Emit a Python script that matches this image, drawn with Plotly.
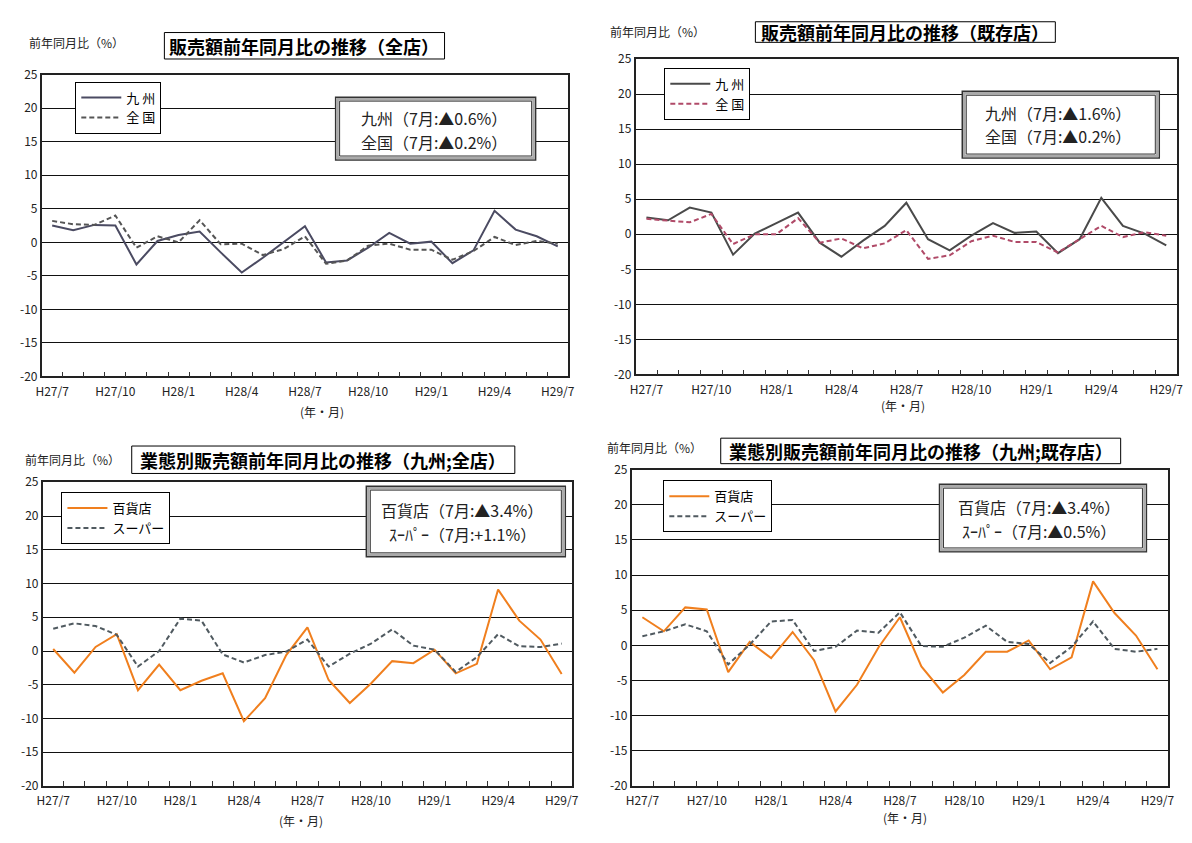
import plotly.graph_objects as go

W, H = 1192, 843

months = ["H27/7", "H27/8", "H27/9", "H27/10", "H27/11", "H27/12",
          "H28/1", "H28/2", "H28/3", "H28/4", "H28/5", "H28/6",
          "H28/7", "H28/8", "H28/9", "H28/10", "H28/11", "H28/12",
          "H29/1", "H29/2", "H29/3", "H29/4", "H29/5", "H29/6", "H29/7"]
label_months = ["H27/7", "H27/10", "H28/1", "H28/4", "H28/7", "H28/10", "H29/1", "H29/4", "H29/7"]
y_ticks = [-20, -15, -10, -5, 0, 5, 10, 15, 20, 25]

# Panel 1: 全店
kyushu_all = [2.5, 1.8, 2.6, 2.5, -3.3, 0.2, 1.1, 1.6, -1.5, -4.5, -2.3, 0.1, 2.4,
              -3.0, -2.7, -0.8, 1.4, -0.2, 0.1, -3.1, -1.2, 4.7, 1.9, 0.9, -0.6]
zenkoku_all = [3.2, 2.7, 2.6, 4.0, -0.8, 0.9, 0.0, 3.3, -0.3, -0.2, -1.9, -1.0, 0.9,
               -3.2, -2.7, -0.5, -0.2, -1.1, -1.1, -2.6, -1.3, 0.8, -0.4, 0.2, -0.2]
# Panel 2: 既存店
kyushu_exist = [2.4, 2.0, 3.8, 3.1, -2.9, 0.1, 1.6, 3.1, -1.2, -3.2, -0.9, 1.2, 4.5,
                -0.7, -2.3, -0.2, 1.6, 0.2, 0.4, -2.7, -0.7, 5.2, 1.2, 0.1, -1.6]
zenkoku_exist = [2.2, 1.9, 1.7, 2.9, -1.4, 0.0, 0.0, 2.3, -1.2, -0.6, -2.0, -1.3, 0.6,
                 -3.5, -3.0, -1.0, -0.2, -1.1, -1.1, -2.6, -0.7, 1.2, -0.4, 0.3, -0.2]
# Panel 3: 業態別 九州 全店
dept_all = [0.3, -3.2, 0.6, 2.5, -5.8, -2.0, -5.8, -4.4, -3.3, -10.4, -7.0, -0.6, 3.5,
            -4.3, -7.7, -4.8, -1.5, -1.8, 0.2, -3.3, -1.9, 9.1, 4.5, 1.7, -3.4]
super_all = [3.3, 4.1, 3.7, 2.4, -2.3, 0.0, 4.8, 4.5, -0.5, -1.7, -0.6, -0.1, 1.7,
             -2.3, -0.4, 1.1, 3.2, 0.8, 0.2, -3.1, -0.9, 2.5, 0.7, 0.6, 1.1]
# Panel 4: 業態別 九州 既存店
dept_exist = [4.0, 2.0, 5.4, 5.1, -3.8, 0.5, -1.8, 1.9, -2.1, -9.4, -5.6, -0.3, 4.0,
              -3.0, -6.7, -4.2, -0.9, -0.9, 0.7, -3.4, -1.7, 9.1, 4.6, 1.4, -3.4]
super_exist = [1.3, 2.0, 3.0, 2.0, -2.7, 0.1, 3.4, 3.6, -0.8, -0.2, 2.1, 1.8, 4.7,
               -0.1, -0.2, 1.1, 2.8, 0.5, 0.2, -2.5, -0.2, 3.4, -0.5, -0.9, -0.5]

FONT = "Noto Sans CJK JP"
TICKFONT = "Noto Sans CJK JP"

def px(x):
    return x / W

def py(y):
    return 1 - y / H

panels = [
    dict(dom=(36, 568, 66, 374),
         title="販売額前年同月比の推移（全店）", tbox=(160, 443, 23, 50),
         ylab=(71, 33), xlab=(319, 410),
         leg=(70, 73),
         abox=(333, 535, 89, 153), atext=(432, 110, 135),
         lines=["九州（7月:▲0.6%）", "全国（7月:▲0.2%）"],
         series=[("九 州", kyushu_all, "#4b4b62", "solid"),
                 ("全 国", zenkoku_all, "#555555", "5px,3px")]),
    dict(dom=(636, 1183, 50, 372),
         title="販売額前年同月比の推移（既存店）", tbox=(757, 1060, 12, 33),
         ylab=(658, 22), xlab=(906, 404),
         leg=(665, 59),
         abox=(966, 1165, 83, 151), atext=(1063, 105, 129),
         lines=["九州（7月:▲1.6%）", "全国（7月:▲0.2%）"],
         series=[("九 州", kyushu_exist, "#4a4a4a", "solid"),
                 ("全 国", zenkoku_exist, "#b04a68", "5px,3px")]),
    dict(dom=(37, 572, 482, 792),
         title="業態別販売額前年同月比の推移（九州;全店）", tbox=(127, 514, 445, 473),
         ylab=(67, 459), xlab=(298, 827),
         leg=(56, 492),
         abox=(364, 565, 486, 558), atext=(461, 510, 535),
         lines=["百貨店（7月:▲3.4%）", "ｽｰﾊﾟｰ（7月:+1.1%）"],
         series=[("百貨店", dept_all, "#f07f1e", "solid"),
                 ("スーパー", super_all, "#505a60", "5px,3px")]),
    dict(dom=(632, 1174, 469, 792),
         title="業態別販売額前年同月比の推移（九州;既存店）", tbox=(722, 1126, 437, 463),
         ylab=(655, 447), xlab=(908, 824),
         leg=(664, 480),
         abox=(943, 1152, 484, 553), atext=(1044, 507, 532),
         lines=["百貨店（7月:▲3.4%）", "ｽｰﾊﾟｰ（7月:▲0.5%）"],
         series=[("百貨店", dept_exist, "#f07f1e", "solid"),
                 ("スーパー", super_exist, "#505a60", "5px,3px")]),
]

fig = go.Figure()
shapes = []
annotations = []
layout = dict(width=W, height=H, margin=dict(l=0, r=0, t=0, b=0),
              paper_bgcolor="white", plot_bgcolor="white",
              font=dict(family=FONT, color="black"))

ticktext = [m if m in label_months else "" for m in months]

for k, p in enumerate(panels, start=1):
    sfx = "" if k == 1 else str(k)
    x0, x1, y0, y1 = p["dom"]
    legname = "legend" if k == 1 else f"legend{k}"
    for name, vals, color, dash in p["series"]:
        fig.add_trace(go.Scatter(
            x=months, y=vals, mode="lines", name=name,
            line=dict(color=color, width=2, dash=dash),
            xaxis=f"x{sfx}", yaxis=f"y{sfx}", legend=legname))
    layout[f"xaxis{sfx}"] = dict(
        domain=[px(x0), px(x1)], anchor=f"y{sfx}", type="category",
        categoryorder="array", categoryarray=months,
        range=[-0.5, len(months) - 0.5],
        tickmode="array", tickvals=months, ticktext=ticktext,
        tickson="boundaries", ticks="inside", ticklen=5, tickcolor="#333",
        showgrid=False, showline=True, linecolor="#222", linewidth=1.5, mirror=True,
        tickfont=dict(size=12, family=TICKFONT, color="#222"), ticklabelstandoff=3,
        tickangle=0)
    layout[f"yaxis{sfx}"] = dict(
        domain=[py(y1), py(y0)], anchor=f"x{sfx}", range=[-20, 25],
        tickmode="array", tickvals=y_ticks, ticktext=[str(v) for v in y_ticks],
        showgrid=True, gridcolor="#111", gridwidth=1.3, zeroline=False,
        showline=True, linecolor="#222", linewidth=1.5, mirror=True, ticks="",
        tickfont=dict(size=12, family=TICKFONT, color="#222"))
    lx, ly = p["leg"]
    layout[legname] = dict(
        x=px(lx), y=py(ly), xanchor="left", yanchor="top",
        bgcolor="white", bordercolor="black", borderwidth=1,
        font=dict(size=13, family=FONT), tracegroupgap=2, itemwidth=40)

    # title box
    tx0, tx1, ty0, ty1 = p["tbox"]
    shapes.append(dict(type="rect", xref="paper", yref="paper",
                       x0=px(tx0), x1=px(tx1), y0=py(ty1), y1=py(ty0),
                       line=dict(color="black", width=1), fillcolor="white", layer="above"))
    annotations.append(dict(text=p["title"], x=px((tx0 + tx1) / 2), y=py((ty0 + ty1) / 2),
                            xref="paper", yref="paper", showarrow=False,
                            xanchor="center", yanchor="middle",
                            font=dict(size=18, family=FONT, color="black", weight="bold")))
    # value box (double frame)
    ax0, ax1, ay0, ay1 = p["abox"]
    shapes.append(dict(type="rect", xref="paper", yref="paper",
                       x0=px(ax0), x1=px(ax1), y0=py(ay1), y1=py(ay0),
                       line=dict(color="#333", width=1.5), fillcolor="white", layer="above"))
    shapes.append(dict(type="rect", xref="paper", yref="paper",
                       x0=px(ax0 + 2), x1=px(ax1 - 2), y0=py(ay1 - 2), y1=py(ay0 + 2),
                       line=dict(color="#aaaaaa", width=2.5), fillcolor="white", layer="above"))
    shapes.append(dict(type="rect", xref="paper", yref="paper",
                       x0=px(ax0 + 4), x1=px(ax1 - 4), y0=py(ay1 - 4), y1=py(ay0 + 4),
                       line=dict(color="#333", width=1), fillcolor="rgba(0,0,0,0)", layer="above"))
    cx, l1, l2 = p["atext"]
    for txt, yy in zip(p["lines"], (l1, l2)):
        annotations.append(dict(text=txt, x=px(cx), y=py(yy), xref="paper", yref="paper",
                                showarrow=False, xanchor="center", yanchor="middle",
                                font=dict(size=16, family=FONT, color="#222")))
    # axis captions
    yx, yy = p["ylab"]
    annotations.append(dict(text="前年同月比（%）", x=px(yx), y=py(yy), xref="paper", yref="paper",
                            showarrow=False, xanchor="center", yanchor="middle",
                            font=dict(size=12, family=FONT, color="#222")))
    xx, xy = p["xlab"]
    annotations.append(dict(text="(年・月)", x=px(xx), y=py(xy), xref="paper", yref="paper",
                            showarrow=False, xanchor="center", yanchor="middle",
                            font=dict(size=12, family=FONT, color="#222")))

layout["shapes"] = shapes
layout["annotations"] = annotations
layout["showlegend"] = True
fig.update_layout(**layout)
fig.write_html("out.html", config={"displayModeBar": False},
               post_script="document.body.style.margin='0px';document.body.style.overflow='hidden';")
